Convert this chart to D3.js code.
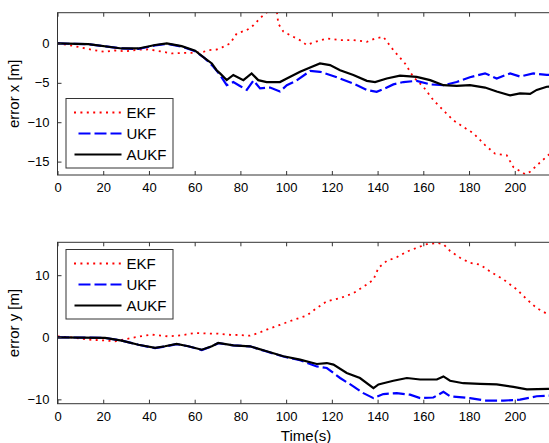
<!DOCTYPE html>
<html>
<head>
<meta charset="utf-8">
<script src="https://d3js.org/d3.v7.min.js"></script>
<style>
  body { margin: 0; background: #fff; }
  text { font-family: "Liberation Sans", Arial, sans-serif; fill: #000; }
</style>
</head>
<body>
<svg id="chart" width="549" height="443"></svg>
<script>
// time grid ticks
const xTicks = [0, 20, 40, 60, 80, 100, 120, 140, 160, 180, 200];
const topYTicks = [0, -5, -10, -15];
const botYTicks = [10, 0, -10];
const seriesNames = ['EKF', 'UKF', 'AUKF'];

// error x [m]  -- [time, value]
const ekfX = [[0,0],[5,-0.2],[10,-0.5],[15,-0.8],[20.8,-1.07],[25,-0.9],[30,-1.0],[35,-0.8],[40,-0.76],[45,-1.0],
  [50,-1.27],[55,-1.2],[60,-1.2],[63.8,-1.07],[66,-0.85],[69.6,-0.77],[72,-0.5],[75.5,0],[78.4,1.27],[82.8,1.69],
  [85.7,2.3],[88.6,3.2],[90.8,3.8],[93,4.2],[95.9,4.1],[96.6,2.5],[98.8,1.5],[101.7,1.05],[106,0.42],[109,-0.2],
  [111.9,0.12],[117.8,0.63],[123.6,0.42],[129.4,0.42],[135.3,0.2],[138.9,0.63],[142.5,0.84],[144.7,0],[146.9,-0.85],
  [152,-2.54],[155.6,-4.24],[160,-5.5],[164.4,-7.2],[168.8,-8.5],[173.1,-9.75],[177.5,-10.6],[181.9,-11.4],
  [187,-12.9],[191.4,-14.0],[196.5,-14.2],[199.4,-15.7],[204.5,-16.6],[206.7,-16.3],[209.6,-15.5],[214.6,-14.2],[218,-13.5]];
const ukfX = [[0,0],[13.5,-0.1],[28.1,-0.64],[35.4,-0.7],[42.7,-0.25],[47.8,-0.05],[54.3,-0.4],[60.2,-1.0],
  [64.5,-1.9],[68.2,-2.97],[71.1,-4.0],[74,-5.3],[76.9,-4.9],[79.8,-5.4],[82.8,-5.9],[85.7,-4.7],[88.6,-5.7],
  [93,-5.6],[97.3,-6.1],[100.3,-5.3],[104.6,-4.7],[110.5,-3.5],[114.8,-3.6],[119.2,-4.0],[123.6,-4.45],
  [129.4,-5.1],[135.3,-5.9],[139.6,-6.15],[142.5,-5.8],[146.9,-5.2],[151.3,-4.9],[157.1,-4.75],[163,-5.2],
  [168.8,-5.3],[174.6,-4.9],[180.4,-4.3],[187,-3.8],[192.1,-4.45],[198,-3.8],[202.3,-4.2],[208.1,-3.8],[214,-4.0],[218,-4.0]];
const aukfX = [[0,0],[13.5,-0.1],[28.1,-0.64],[35.4,-0.64],[42.7,-0.2],[47.8,0],[54.3,-0.34],[60.2,-0.93],
  [64.5,-1.9],[67.5,-2.54],[69.6,-3.4],[71.1,-3.8],[74,-4.66],[76.9,-4.0],[81.3,-4.66],[84.9,-3.8],[87.8,-4.66],
  [91.5,-4.9],[97.3,-4.9],[100.3,-4.45],[106.1,-3.6],[110.5,-3.05],[114.8,-2.54],[119.2,-2.75],[123.6,-3.4],
  [129.4,-4.0],[135.3,-4.75],[138.9,-4.9],[144,-4.45],[149.8,-4.1],[157.1,-4.24],[163,-4.66],[168.8,-5.3],
  [174.6,-5.4],[180.4,-5.3],[187,-5.6],[192.1,-6.1],[198,-6.6],[202.3,-6.35],[206.7,-6.4],[209.6,-5.9],[214,-5.5],[218,-5.4]];

// error y [m]  -- [time, value]
const ekfY = [[0,0.15],[6,0],[13.5,-0.38],[20,-0.5],[25.2,-0.65],[32.4,-0.1],[37,0.2],[41.2,0.42],[48.5,0.15],
  [54.3,0.32],[60.2,0.7],[66,0.6],[70.3,0.58],[74,0.42],[80,0.35],[84.2,0.26],[88,0.7],[91.5,1.23],[97.3,2.0],
  [103.2,2.8],[109,3.5],[113.4,4.7],[117.8,5.8],[123.6,6.3],[129.4,7.1],[135.3,8.5],[138.2,9.3],[140.4,11.2],
  [144,12.3],[148.4,12.9],[152.8,13.8],[157.1,14.4],[161.5,15.0],[165.9,15.2],[168.8,15.0],[171.7,13.9],
  [176.1,12.8],[180.4,12.0],[184.8,11.7],[189.2,10.6],[195.1,9.3],[200.9,7.7],[205.3,6.1],[209.6,4.7],[214,3.8],[218,3.3]];
const ukfY = [[0,0],[20.8,-0.1],[28.1,-0.55],[35.4,-1.2],[42.7,-1.75],[47,-1.5],[52.1,-1.1],[57.2,-1.45],
  [63.1,-2.05],[67.5,-1.45],[70.3,-0.95],[76.9,-1.3],[84.2,-1.45],[91.5,-2.3],[98.8,-3.1],[106.1,-3.7],
  [113.4,-4.7],[117.8,-4.95],[123.6,-6.56],[129.4,-7.9],[133.8,-9.0],[138.2,-9.8],[142.5,-9.15],[148.4,-9.0],
  [154.2,-9.25],[158.6,-9.8],[164.4,-9.7],[168.8,-8.8],[171.7,-9.5],[180.4,-9.8],[187,-10.2],[195.1,-10.2],
  [202.3,-10.05],[209.6,-9.5],[214.6,-9.4],[218,-9.4]];
const aukfY = [[0,0],[20.8,-0.1],[28.1,-0.55],[35.4,-1.2],[42.7,-1.7],[47,-1.45],[52.1,-1.08],[57.2,-1.45],
  [63.1,-2.0],[67.5,-1.45],[70.3,-0.92],[76.9,-1.3],[84.2,-1.45],[91.5,-2.26],[98.8,-3.06],[106.1,-3.6],
  [113.4,-4.3],[117.8,-4.15],[120.7,-4.4],[126.5,-5.76],[132.3,-6.56],[138.2,-8.2],[140.4,-7.6],[142.5,-7.4],
  [146.9,-7.0],[152.8,-6.56],[158.6,-6.8],[165.9,-6.8],[168.8,-6.3],[171.7,-7.0],[177.5,-7.4],[184.8,-7.5],
  [192.1,-7.6],[199.4,-8.0],[205.3,-8.4],[214.6,-8.3],[218,-8.3]];

const svg = d3.select('#chart');
const left = 57.5, right = 555;
const x = d3.scaleLinear().domain([0, 217.6]).range([left, right]);

const styles = {
  EKF: { color: '#ff0000', width: 1.8, dash: '2,4.4', lx: 74 },
  UKF: { color: '#0000ff', width: 2.2, dash: '12,4', lx: 78.5 },
  AUKF: { color: '#000000', width: 2.2, dash: null, lx: 74.5 }
};

function panel(top, bottom, yDomain, yTicks, data, yLabel, legendTop, clipId) {
  const y = d3.scaleLinear().domain(yDomain).range([bottom, top]);
  const g = svg.append('g');

  g.append('clipPath').attr('id', clipId)
    .append('rect').attr('x', left).attr('y', top).attr('width', right - left).attr('height', bottom - top);

  const line = d3.line().x(d => x(d[0])).y(d => y(d[1]));
  const lines = g.append('g').attr('clip-path', `url(#${clipId})`);
  data.forEach((s, i) => {
    const st = styles[seriesNames[i]];
    lines.append('path')
      .datum(s)
      .attr('d', line)
      .attr('fill', 'none')
      .attr('stroke', st.color)
      .attr('stroke-width', st.width)
      .attr('stroke-dasharray', st.dash);
  });

  // box
  g.append('rect').attr('x', left).attr('y', top).attr('width', right - left).attr('height', bottom - top)
    .attr('fill', 'none').attr('stroke', '#333').attr('stroke-width', 1);

  const xa = g.append('g').attr('transform', `translate(0,${bottom})`)
    .call(d3.axisBottom(x).tickValues(xTicks).tickSizeInner(-4).tickSizeOuter(0).tickPadding(8));
  xa.select('.domain').remove();
  const xt = g.append('g').attr('transform', `translate(0,${top})`)
    .call(d3.axisTop(x).tickValues(xTicks).tickSizeInner(-4).tickSizeOuter(0).tickFormat(''));
  xt.select('.domain').remove();
  const ya = g.append('g').attr('transform', `translate(${left},0)`)
    .call(d3.axisLeft(y).tickValues(yTicks).tickSizeInner(-4).tickSizeOuter(0).tickPadding(8));
  ya.select('.domain').remove();
  g.selectAll('.tick line').attr('stroke', '#333');
  g.selectAll('.tick text').style('font-size', '13px').style('font-family', '"Liberation Sans", Arial, sans-serif');

  g.append('text')
    .attr('transform', `translate(19,${(top + bottom) / 2}) rotate(-90)`)
    .attr('text-anchor', 'middle')
    .style('font-size', '15px')
    .text(yLabel);

  // legend
  const lg = g.append('g').attr('transform', `translate(66,${legendTop})`);
  lg.append('rect').attr('width', 107).attr('height', 69.5)
    .attr('fill', '#fff').attr('stroke', '#333').attr('stroke-width', 1);
  seriesNames.forEach((n, i) => {
    const st = styles[n];
    const yy = 14 + i * 21;
    lg.append('line').attr('x1', st.lx - 66).attr('x2', 55.5).attr('y1', yy).attr('y2', yy)
      .attr('stroke', st.color).attr('stroke-width', st.width).attr('stroke-dasharray', st.dash);
    lg.append('text').attr('x', 60.5).attr('y', yy + 5.5).style('font-size', '15px').text(n);
  });
  return y;
}

panel(12.7, 175, [-16.7, 3.9], topYTicks, [ekfX, ukfX, aukfX], 'error x [m]', 98.5, 'clipTop');
panel(242.3, 403.7, [-10.7, 15.3], botYTicks, [ekfY, ukfY, aukfY], 'error y [m]', 249.5, 'clipBot');

svg.append('text')
  .attr('x', 306).attr('y', 441)
  .attr('text-anchor', 'middle')
  .style('font-size', '15px')
  .text('Time(s)');
</script>
</body>
</html>
